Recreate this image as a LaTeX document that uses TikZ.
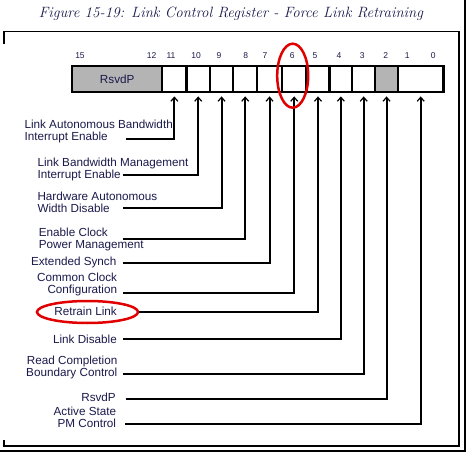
\documentclass[tikz,border=0pt]{standalone}
\usepackage{fontspec}
\newfontfamily\labelfont{Liberation Sans}
\usetikzlibrary{arrows.meta,shapes.geometric}
\definecolor{regtext}{RGB}{25,25,75}
\definecolor{markred}{RGB}{225,0,0}
\definecolor{rsvdgray}{RGB}{180,180,180}

\begin{document}
  \begin{tikzpicture}[x = 1pt, y = -1pt,
      cell/.style = {draw, line width = 2.4pt, inner sep = 0pt, minimum height = 26pt, anchor = north west},
      bitno/.style = {font = \labelfont\fontsize{8.5}{9}\selectfont, text = regtext, inner sep = 0pt},
      field/.style = {font = \labelfont\fontsize{11.7}{12}\selectfont, text = regtext, inner sep = 0pt},
      lead/.style = {line width = 2pt, -{Straight Barb[length = 4pt, width = 7pt, line width = 1.2pt]}},
      redring/.style = {draw = markred, line width = 2.5pt, ellipse, inner sep = 0pt}]
    \useasboundingbox (0,0) rectangle (466,452);
    % frame
    \draw[line width = 1.4pt] (4,44) |- (459,31.3) |- (4,446) -- (4,440);
    \draw[line width = 1.4pt] (465,0) -- (465,451) -- (0,451);
    \node[font = \itshape\fontsize{14.9}{17}\selectfont, text = regtext] (title) at (231,13.5) {Figure 15-19: Link Control Register - Force Link Retraining};
    % register
    \node[cell, field, fill = rsvdgray, minimum width = 90pt] (c15) at (71,65) {RsvdP};
    \foreach \b/\l/\r in {11/161/185.3, 10/185.3/208.7, 9/208.7/232, 8/232/256, 7/256/280.7, 6/280.7/305.3, 5/305.3/328.3, 4/328.3/351, 3/351/374}
      \node[cell, minimum width = \r pt - \l pt] (c\b) at (\l,65) {};
    \node[cell, fill = rsvdgray, minimum width = 22.7pt] (c2) at (374,65) {};
    \node[cell, minimum width = 45.6pt] (c1) at (396.7,65) {};
    \foreach \b/\x in {15/80, 12/151.7, 11/171, 10/196, 9/219, 8/245.7, 7/265, 6/292.3, 5/315, 4/339, 3/362.3, 2/385.7, 1/407.3, 0/433.3}
      \node[bitno] (n\b) at (\x,56) {\b};
    % fields
    \node[field, align = left, anchor = west] (l11) at (24.3,131.7) {Link Autonomous Bandwidth\\Interrupt Enable};
    \node[field, align = left, anchor = west] (l10) at (37.3,169) {Link Bandwidth Management\\Interrupt Enable};
    \node[field, align = left, anchor = west] (l9) at (37.3,202.8) {Hardware Autonomous\\Width Disable};
    \node[field, align = left, anchor = west] (l8) at (38.7,239.3) {Enable Clock\\Power Management};
    \node[field, anchor = east] (l7) at (116.5,262) {Extended Synch};
    \node[field, align = right, anchor = east] (l6) at (117.3,284.7) {Common Clock\\Configuration};
    \node[field, anchor = east] (l5) at (117,311.7) {Retrain Link};
    \node[field, anchor = east] (l4) at (117,339) {Link Disable};
    \node[field, align = right, anchor = east] (l3) at (117.5,367.8) {Read Completion\\Boundary Control};
    \node[field, anchor = east] (l2) at (116,397) {RsvdP};
    \node[field, align = right, anchor = east] (l1) at (116.3,417.7) {Active State\\PM Control};
    \node[redring, minimum width = 101pt, minimum height = 22pt] (ring5) at (87.5,312) {};
    % leaders
    \coordinate (s11) at (125.7,138.7);
    \coordinate (s10) at (123,174.7);
    \coordinate (s9) at (123,207.7);
    \coordinate (s8) at (123,238.7);
    \coordinate (s7) at (123,263.3);
    \coordinate (s6) at (123,292.7);
    \coordinate (s4) at (123,339.3);
    \coordinate (s3) at (123,373.7);
    \coordinate (s2) at (125.7,399.3);
    \coordinate (s1) at (125,424);
    \foreach \b in {11,10,9,8,7,6,4,3,2,1}
      \draw[lead] (s\b) -| ([yshift = -3pt]c\b.south);
    \draw[lead] (ring5.east) -| ([yshift = -3pt]c5.south);
    \node[redring, minimum width = 31pt, minimum height = 64pt] (ring6) at (292.7,75.7) {};
  \end{tikzpicture}
\end{document}
